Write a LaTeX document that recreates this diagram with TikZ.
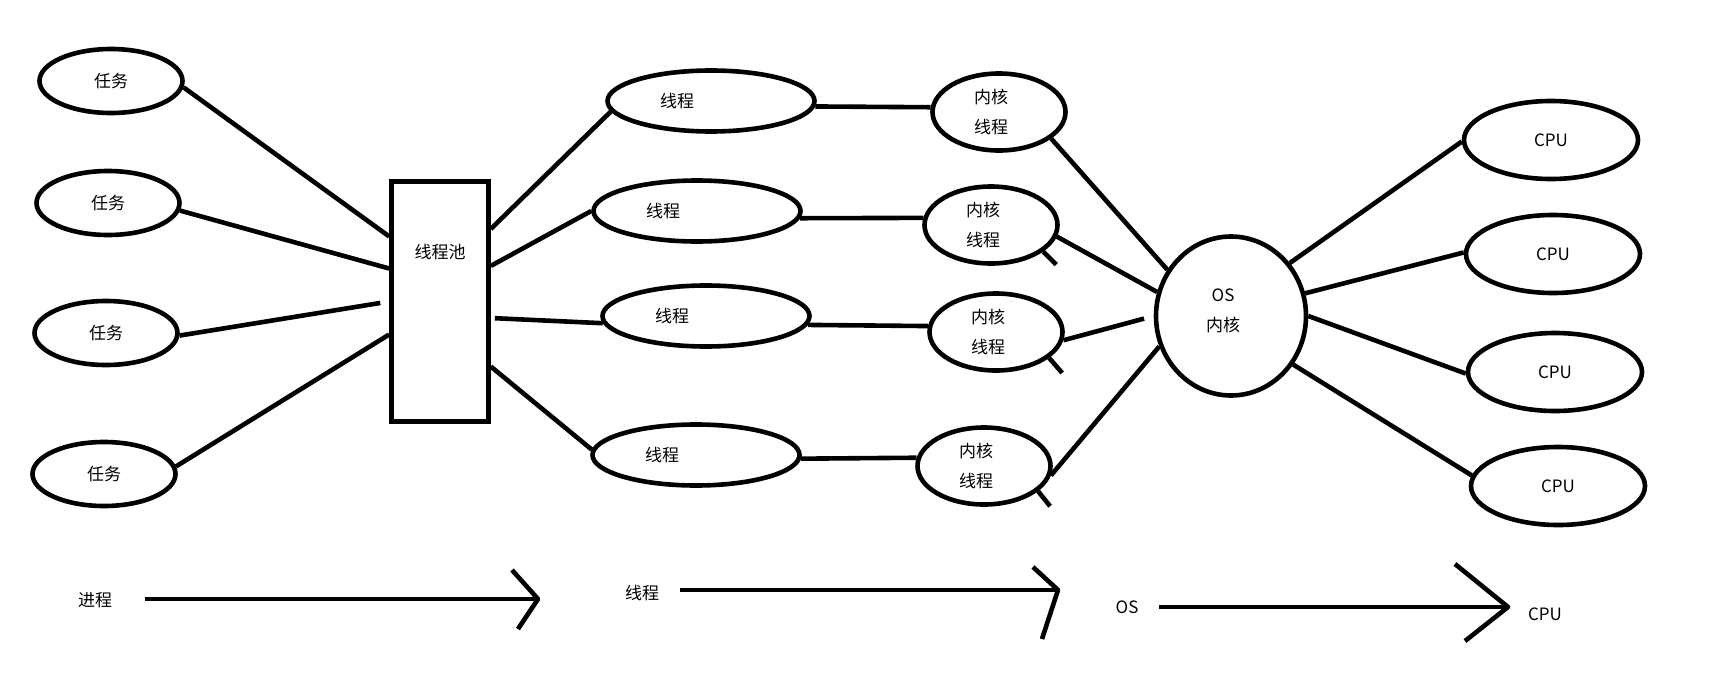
\documentclass[tikz,border=0pt]{standalone}
\usepackage{fontspec}
\newfontfamily\cjk{Noto Sans CJK SC}
\usetikzlibrary{shapes.geometric}

\tikzset{
  oval/.style={draw, ellipse, line width=4.6pt, inner sep=0pt},
  link/.style={line width=4.6pt},
}
\newcommand{\tasknode}[3]{%
 \node[oval, minimum width=143pt, minimum height=64pt] ({#1}) at ({#2}) {#3};%
}
\newcommand{\threadnode}[3]{%
 \node[oval, minimum width=207pt, minimum height=61pt,
       label={[xshift=-34pt]center:#3}] ({#1}) at ({#2}) {};%
}
\newcommand{\kthreadnode}[2]{%
 \node[oval, minimum width=133pt, minimum height=77pt,
       label={[xshift=-8pt, align=center]center:{内核\\线程}}] ({#1}) at ({#2}) {};%
}
\newcommand{\cpunode}[2]{%
 \node[oval, minimum width=174pt, minimum height=78pt] ({#1}) at ({#2}) {CPU};%
}

\begin{document}
\begin{tikzpicture}[x=1pt, y=-1pt,
    every node/.style={font=\cjk\fontsize{17}{30}\selectfont}]
  \useasboundingbox (0,0) rectangle (1712,688);

  % tasks
  \tasknode{task1}{111,81}{任务}
  \tasknode{task2}{108,203}{任务}
  \tasknode{task3}{106,333}{任务}
  \tasknode{task4}{104,474}{任务}

  % pool
  \node[draw, line width=4.6pt, minimum width=97pt, minimum height=240pt, inner sep=0pt,
        label={[yshift=49pt]center:线程池}] (pool) at (440,301.5) {};

  % threads
  \threadnode{th1}{711,101}{线程}
  \threadnode{th2}{697,211}{线程}
  \threadnode{th3}{706,316}{线程}
  \threadnode{th4}{696,455}{线程}

  % kernel threads
  \kthreadnode{kt1}{999,112}
  \kthreadnode{kt2}{991,225}
  \kthreadnode{kt3}{996,332}
  \kthreadnode{kt4}{984,466}

  % os kernel
  \node[oval, minimum width=150pt, minimum height=159pt,
        label={[xshift=-8pt, yshift=5pt, align=center]center:{OS\\内核}}] (os) at (1231,316) {};

  % cpus
  \cpunode{cpu1}{1551,140}
  \cpunode{cpu2}{1553,254}
  \cpunode{cpu3}{1555,372}
  \cpunode{cpu4}{1558,486}

  \path[link] (task1.-5) edge (pool.128)
              (task2.-6) edge (pool.147)
              (task3.-2) edge[shorten >=9pt] (pool.180)
              (task4.6) edge (pool.-147);
  \path[link] (pool.55) edge (th1.-174)
              (pool.35) edge (th2.180)
              (pool.-18) edge[shorten <=4pt] (th3.-176)
              (pool.-52) edge (th4.177);
  \path[link] (th1.-3) edge (kt1.176)
              (th2.-4) edge (kt2.174)
              (th3.-5) edge (kt3.175)
              (th4.-2) edge (kt4.173);
  \path[link] (kt1.-27) edge (os.144)
              (kt2.-10) edge (os.162)
              (kt3.-7) edge[shorten >=10pt] (os.180)
              (kt4.-8) edge (os.-157);
  \draw[link] (kt2.-27) -- ++(13,13);
  \draw[link] (kt3.-26) -- ++(13,15);
  \draw[link] (kt4.-25) -- ++(12,15);
  \path[link] (os.42) edge (cpu1.181)
              (os.17) edge (cpu2.179)
              (os.0) edge (cpu3.181)
              (os.-38) edge (cpu4.173);

  % bottom row
  \node (proc) at (95,600) {进程};
  \coordinate (p1s) at (145,599);
  \coordinate (p1e) at (538,599);
  \coordinate (p1t) at (512,570);
  \coordinate (p1b) at (518,629);
  \draw[link] (p1s) -- (p1e);
  \draw[link, line join=round] (p1t) -- (p1e) -- (p1b);

  \node (thr) at (642,593) {线程};
  \coordinate (p2s) at (680,590);
  \coordinate (p2e) at (1058,590);
  \coordinate (p2t) at (1033,567);
  \coordinate (p2b) at (1042,639);
  \draw[link] (p2s) -- (p2e);
  \draw[link, line join=round] (p2t) -- (p2e) -- (p2b);

  \node (ostxt) at (1127,607) {OS};
  \coordinate (p3s) at (1159,607);
  \coordinate (p3e) at (1508,607);
  \coordinate (p3t) at (1455,564);
  \coordinate (p3b) at (1465,641);
  \draw[link] (p3s) -- (p3e);
  \draw[link, line join=round] (p3t) -- (p3e) -- (p3b);
  \node (cputxt) at (1545,614) {CPU};
\end{tikzpicture}
\end{document}
